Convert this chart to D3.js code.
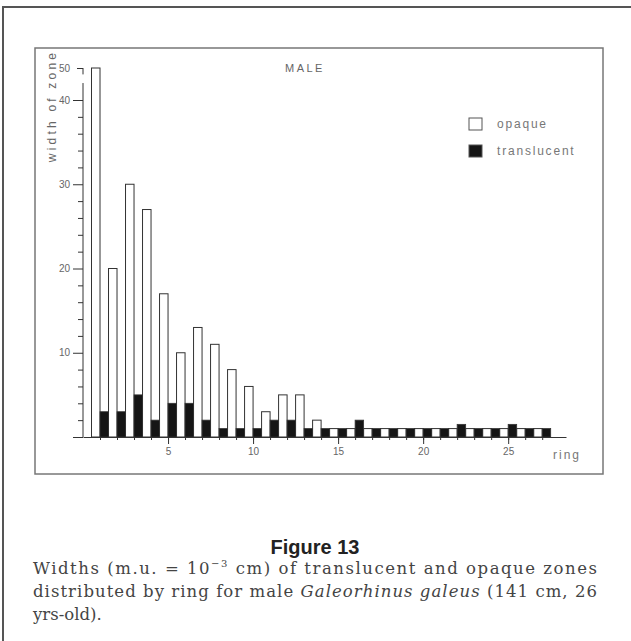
<!DOCTYPE html>
<html>
<head>
<meta charset="utf-8">
<script src="https://cdn.jsdelivr.net/npm/d3@7"></script>
<style>
  body { margin: 0; background: #fff; }
  svg { display: block; }
  .caption { font-family: "DejaVu Serif", "Liberation Serif", "Times New Roman", serif; }
</style>
</head>
<body>
<svg id="canvas"></svg>
<script>
"use strict";

// rings and zone widths (m.u.)
const rings = [1,2,3,4,5,6,7,8,9,10,11,12,13,14,15,16,17,18,19,20,21,22,23,24,25,26,27];
const opaque = [50,20,30,27,17,10,13,11,8,6,3,5,5,2,1,1,1,1,1,1,1,1,1,1,1,1,1];
const translucent = [3,3,5,2,4,4,2,1,1,1,2,2,1,1,1,2,1,1,1,1,1,1.5,1,1,1.5,1,1];

const xTicks = [5,10,15,20,25];
const yTicks = [0,10,20,30,40,50];
const yMinor = [2,4,6,8,12,14,16,18,22,24,26,28,32,34,36,38];

let width = 631;
let height = 641;

let canvas = d3.select('#canvas')
canvas.attr('width', width)
    .attr('height', height);

// x: one ring = 17px, y: broken scale (0-40 linear, 40-50 squeezed)
let xScale = d3.scaleLinear().domain([0, 28.4]).range([83, 566]);
let yScale = d3.scaleLinear().domain([0, 40, 50]).range([437, 100, 68]);

const ink = '#333';
const grey = '#666';
const sans = "'Liberation Sans', Arial, sans-serif";

const drawFrames = () => {
    canvas.append('path')
        .attr('d', 'M3,641 L3,7 L631,7')
        .attr('fill', 'none')
        .attr('stroke', '#555')
        .attr('stroke-width', 2);
    canvas.append('rect')
        .attr('x', 35).attr('y', 48)
        .attr('width', 568).attr('height', 426)
        .attr('fill', 'none')
        .attr('stroke', '#777')
        .attr('stroke-width', 1.5);
};

const drawBars = () => {
    let half = xScale(0.5) - xScale(0);
    let data = rings.map((r, i) => ({ring: r, op: opaque[i], tr: translucent[i]}));

    canvas.append('g').selectAll('rect')
        .data(data)
        .enter()
        .append('rect')
        .attr('x', (d) => xScale(d.ring) - half)
        .attr('y', (d) => yScale(d.op))
        .attr('width', half)
        .attr('height', (d) => yScale(0) - yScale(d.op))
        .attr('fill', '#fff')
        .attr('stroke', ink)
        .attr('stroke-width', 1);

    canvas.append('g').selectAll('rect')
        .data(data)
        .enter()
        .append('rect')
        .attr('x', (d) => xScale(d.ring))
        .attr('y', (d) => yScale(d.tr))
        .attr('width', half)
        .attr('height', (d) => yScale(0) - yScale(d.tr))
        .attr('fill', '#151515')
        .attr('stroke', ink)
        .attr('stroke-width', 0.8);
};

const drawAxes = () => {
    let y0 = yScale(0);

    // minor ring ticks
    canvas.append('g')
        .attr('transform', 'translate(0,' + y0 + ')')
        .call(d3.axisBottom(xScale).tickValues(rings).tickSize(3).tickFormat(''))
        .call(g => g.select('.domain').remove())
        .selectAll('line').attr('stroke', ink);

    let xAxis = d3.axisBottom(xScale)
        .tickValues(xTicks)
        .tickSize(7)
        .tickSizeOuter(0)
        .tickPadding(4);

    let gx = canvas.append('g')
        .attr('id', 'x-axis')
        .attr('transform', 'translate(0,' + y0 + ')')
        .call(xAxis);
    gx.select('.domain').attr('stroke', ink);
    gx.selectAll('line').attr('stroke', ink);
    gx.selectAll('text')
        .attr('fill', grey)
        .style('font-family', sans)
        .style('font-size', '10px');

    canvas.append('text')
        .attr('x', 553).attr('y', 459)
        .attr('fill', '#777')
        .style('font-family', sans)
        .style('font-size', '12px')
        .style('letter-spacing', '2px')
        .text('ring');

    // y axis, broken between 45 and 48
    canvas.append('g')
        .attr('transform', 'translate(83,0)')
        .call(d3.axisLeft(yScale).tickValues(yMinor).tickSize(5).tickFormat(''))
        .call(g => g.select('.domain').remove())
        .selectAll('line').attr('stroke', ink);

    let yAxis = d3.axisLeft(yScale)
        .tickValues(yTicks)
        .tickSize(10)
        .tickPadding(3)
        .tickFormat((d) => d === 0 ? '' : d);

    let gy = canvas.append('g')
        .attr('id', 'y-axis')
        .attr('transform', 'translate(83,0)')
        .call(yAxis);
    gy.select('.domain').remove();
    gy.selectAll('line').attr('stroke', ink);
    gy.selectAll('.tick')
        .filter((d) => d === 50)
        .select('line').attr('x2', -6);
    gy.selectAll('text')
        .attr('fill', grey)
        .style('font-family', sans)
        .style('font-size', '10px');

    [[0, 45.3], [48, 50]].forEach((seg) => {
        canvas.append('line')
            .attr('x1', 83).attr('x2', 83)
            .attr('y1', yScale(seg[0])).attr('y2', yScale(seg[1]))
            .attr('stroke', ink);
    });

    canvas.append('text')
        .attr('transform', 'translate(56,106) rotate(-90)')
        .attr('text-anchor', 'middle')
        .attr('fill', grey)
        .style('font-family', sans)
        .style('font-size', '12px')
        .style('letter-spacing', '3.2px')
        .text('width of zone');
};

const drawLegend = () => {
    canvas.append('text')
        .attr('x', 285).attr('y', 72)
        .attr('fill', grey)
        .style('font-family', sans)
        .style('font-size', '11px')
        .style('letter-spacing', '2.5px')
        .text('MALE');

    let items = [
        {label: 'opaque', fill: '#fff', y: 118},
        {label: 'translucent', fill: '#151515', y: 145}
    ];
    let leg = canvas.append('g').selectAll('g')
        .data(items)
        .enter()
        .append('g');
    leg.append('rect')
        .attr('x', 469)
        .attr('y', (d) => d.y)
        .attr('width', 13)
        .attr('height', 12)
        .attr('fill', (d) => d.fill)
        .attr('stroke', '#555');
    leg.append('text')
        .attr('x', 497)
        .attr('y', (d) => d.y + 10)
        .attr('fill', '#777')
        .style('font-family', sans)
        .style('font-size', '12px')
        .style('letter-spacing', '1.8px')
        .text((d) => d.label);
};

const drawCaption = () => {
    canvas.append('text')
        .attr('x', 315).attr('y', 554)
        .attr('text-anchor', 'middle')
        .attr('fill', '#222')
        .style('font-family', sans)
        .style('font-weight', 'bold')
        .style('font-size', '20px')
        .text('Figure 13');

    // caption lines, the first two justified to the frame width
    let l1 = canvas.append('text')
        .attr('class', 'caption')
        .attr('x', 33).attr('y', 574)
        .attr('textLength', 564)
        .attr('lengthAdjust', 'spacing')
        .attr('fill', '#444')
        .attr('font-size', 16.5);
    l1.append('tspan').text('Widths (m.u. = 10');
    l1.append('tspan').attr('dy', -7).attr('font-size', 10).text('−3');
    l1.append('tspan').attr('dy', 7).text(' cm) of translucent and opaque zones');

    let l2 = canvas.append('text')
        .attr('class', 'caption')
        .attr('x', 33).attr('y', 597)
        .attr('textLength', 564)
        .attr('lengthAdjust', 'spacing')
        .attr('fill', '#444')
        .attr('font-size', 16.5);
    l2.append('tspan').text('distributed by ring for male ');
    l2.append('tspan').attr('font-style', 'italic').text('Galeorhinus galeus');
    l2.append('tspan').text(' (141 cm, 26');

    canvas.append('text')
        .attr('class', 'caption')
        .attr('x', 33).attr('y', 620)
        .attr('fill', '#444')
        .attr('font-size', 16.5)
        .text('yrs-old).');
};

drawFrames();
drawBars();
drawAxes();
drawLegend();
drawCaption();
</script>
</body>
</html>
